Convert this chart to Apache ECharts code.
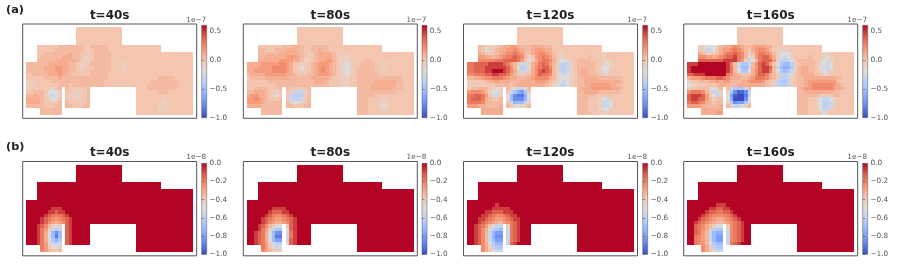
<!DOCTYPE html>
<html><head><meta charset="utf-8">
<style>html,body{margin:0;padding:0;background:#fff}#c{width:897px;height:265px}
canvas[data-zr-dom-id="zr_0"]{filter:blur(0.7px)}</style>
<script src="https://cdn.jsdelivr.net/npm/echarts@6/dist/echarts.min.js"></script>
</head><body><div id="c"></div>
<script>
// Each letter is a level on the colour bar: a = bottom of the bar, u = top, '.' = no cell.
const levels = "abcdefghijklmnopqrstu";
const levelFractions = [0,.05,.1,.15,.2,.25,.3,.35,.4,.44,.5,.58,.625,.655,.69,.73,.77,.81,.86,.92,1];
const titles = ["t=40s","t=80s","t=120s","t=160s"];
const tickA = [-1.0,-0.5,0.0,0.5];
const tickB = [-1.0,-0.8,-0.6,-0.4,-0.2,0.0];
const rangeA = [-1.0,0.6];
const rangeB = [-1.0,0.0];
const top5 = "..... ..... ....m mmmmm mmmmm mm... ..... ..... ..... ..";
const a40 = [top5,top5,top5,top5,top5,
"...mm mmmmn nnnnn nmmnn nnnmm mmmmm mmmmm mmm.. ..... ..",
"...mm mmmnn nnnnn nmmmn nnnmm mmmmm mmmmm mmm.. ..... ..",
"...mm nnnnn nnonn mmlmn nnnnm mmmmm mmmmm mmmmm mmmmm mm",
"...mn nnnnn ooonn mllmn nnnnm mmmmm mmmmm mmmmm mmmmm mm",
"...nn nnnoo oooon mllmn nnnnm mmmmm mmmmm mmmmm mmmmm mm",
"nnnnn noooo oonnm llmnn nnnnm mmllm mmmmm mmmmm mmmmm mm",
"nnnnn ooopp oonnm llmmn nnnnm mllmm mmmmm mmmmm mmmmm mm",
"nnnnn ooopp oonnm lmmnn nnnnm mmlmm mmmmm mmmmm mmmmm mm",
"mmnnn nooop onnmm mmmnn nnnmm mmmmm mmmmm mmmmm mmmmm mm",
"mmmmm nnnno nnnnn nnnnn nnnmm mmmmm mmmmm mmnnn nnmmm mm",
"lmmmm mmnnn nnnnn nnnnn nnmmm mmmmm mmmmm nnnnn nnnmm mm",
"lllmm mmmmn nnmnn nnnnn nnmmm mmmmm mmmmn nnnnn nnnmm mm",
"lmmmm mllmn .nmml mmn.. ..... ..... .mmmn nnnnn nnmmm mm",
"mmnnn mkkkl .mmll lmn.. ..... ..... .mmmm mmnnn mmmmm mm",
"nnonn lkjkl .mlll lmn.. ..... ..... .mmmm mmmmm mmmmm mm",
"oooon mlkkm .mmll lmn.. ..... ..... .mmmm mmmlm mmmmm mm",
"oooon mmlmn .nmmm mmn.. ..... ..... .mmmm mmlll mmmmm mm",
"nnnnn mmmnn .nnmm mnn.. ..... ..... .mmmm mmlll mmmmm mm",
"....n nnnnn ..... ..... ..... ..... .mmmm mmlll mmmmm mm",
"....n nnnnn ..... ..... ..... ..... .mmmm mmmmm mmmmm mm"];
const a80 = [top5,top5,top5,top5,top5,
"...mm mmmmm nnnoo nmmnn nnnmm mmmmm mmmmm mmm.. ..... ..",
"...nn mmmnn nooon nmmnn onnmm mmmmm mmmmm mmm.. ..... ..",
"...nn nnnno ooooo nmlmn oooon mmllm mmmmm mmmmm mmmmm mm",
"...nn ooooo opppo nmlmn oooon mlllm mmmmm mmmmm mmmmm mm",
"...oo oooop pppoo mllmn ooppn mlllm mmmnn mmmmm mmmmm mm",
"oooop ppppq qpomm llmno pppon mllkl mmnnn nmmll mmmmm mm",
"ooopp ppqqq qpoml klmno pqpon mlkkl mmnnn nmllm mmmmm mm",
"ooppp ppqqq qpoml llmno pqpon mlkkl mnnnn nmmlm mmmmm mm",
"noooo ppppp poonm mmnno pppon mllkl mnnnn nnmmm mmmmm mm",
"mnnnn ooooo oonnn nnnoo ooonm mlllm mnnnn nnnnn nnnnm mm",
"mmmmm mnnnn nnnnn nnnno oonmm mlllm mnnnn noooo oonnm mm",
"mmmmm mmmnn nnnnn nnnnn nnnmm mlllm mnnnn ooooo oonnm mm",
"mmnnn nmmmn .nmml lmn.. ..... ..... .nnnn ooooo onnnm mm",
"nnooo nmllm .mljj jlm.. ..... ..... .nnnn nnnnn nnmmm mm",
"oppoo nmlkm .mjii ilm.. ..... ..... .nnnn nmmmm mmmmm mm",
"ppqpo nmmmn .mjii jln.. ..... ..... .nnnm mmmlm mmmmm mm",
"ppppo nnnnn .nlkk lmn.. ..... ..... .nnnm mmlll mmmmm mm",
"oooon nnnnn .nnmm mnn.. ..... ..... .nnnm mmlkl mmmmm mm",
"....n nnnnn ..... ..... ..... ..... .nnnm mmlll mmmmm mm",
"....n nnnnn ..... ..... ..... ..... .nnnm mmmmm mmmmm mm"];
const a120 = [top5,top5,top5,top5,top5,
"...nm lllmn ooppo nnnoo oonnm mmmmm mmmmm mmm.. ..... ..",
"...nm kllno oppqp onnop ppoom mmmmm mmmmm mmm.. ..... ..",
"...on mlmno pqqrq pnmop qqpon mlmmm mmmmm mmmlm mmmmm mm",
"...pp oonop qrrsr qnlmp qrqpn mllmm mmmmn mmmlm mmmmm mm",
"...qq qqqrr ssssr pmklo qrrqo mkklm mnnnn mmmll mmmmm mm",
"rrsss stttt srpnl jjlop rsrpn ljijl mnnnn nmmlk lmmmm mm",
"rrsss ttttt tsqnk iikoq rssqn liijl mnnnn nmlkk lmmmm mm",
"rrsss ttuuu tsqol jjloq stsrn liijl mnoon nmlkk mmmmm mm",
"qqrrr sstts srpnm lmnoq srrqn lkjkl mnoon nnmll mmmmm mm",
"nnoop qqrrr qpoon nnopq qqqon lkkkl mnnoo oonnn nnnnm mm",
"lmmmm noopo oonnn oooop pponm lkjkl mnnoo ooooo ooonm mm",
"lllml mmmnn nnmno ooooo oonml kjjkl mnnoo ppppp oonnm mm",
"mnnno nmlkl .nlkj jkn.. ..... ..... .nooo ppppp poonm mm",
"pqqqp nlkkl .mjhf ehl.. ..... ..... .nnoo oonnn nnnmm mm",
"rrssr pmkjl .kgdc cfk.. ..... ..... .nnnn nmmmm mmmmm mm",
"rsssr onmmn .kgdd dgk.. ..... ..... .nnnm mmlkj lmmmm mm",
"rrrrq onnnn .mjgg gjl.. ..... ..... .nnnm mmljj kmmmm mm",
"pppoo nnnno .nmkk lln.. ..... ..... .nnnm mmljj kmmmm mm",
"....o ooooo ..... ..... ..... ..... .nnnm mmlkk mmmmm mm",
"....o ooooo ..... ..... ..... ..... .nnnn mmmll mmmmm mm"];
const a160 = [top5,top5,top5,top5,top5,
"...ml kkkln oopqp onnop ppoom mmlmm mmmmm mmm.. ..... ..",
"...ml jjkmo ppqrq pnmop qqpnm llllm mmmmm mmm.. ..... ..",
"...on llmno qrrsr qnlnp rrqpn lkkkl mmmmm mmmll mmmmm mm",
"...qq ppopq rsstr qnklp rssqo lkjkl mmmmn mmmlk lmmmm mm",
"...ss sssss ttttr pljkn rsssp ljiik mnnnn nmlkj lmmmm mm",
"tttuu uuuuu utqnj hhjnq stspm khggi lmnnn nmlkj kmmmm mm",
"tuuuu uuuuu utrnj ggjnp sttsn jgffh lnoon nmkjj kmmmm mm",
"tuuuu uuuuu utrnk hhkoq sttrn khghj lnoon nmlkj lmmmm mm",
"ssttt uuuuu urqon mmmoq ssron ljijk mnooo ommll mmmmm mm",
"opppq rrrss rqooo nnopr rrqon liijl mnnoo ooooo oonnm mm",
"lmmnn noopo ppnnn oopqq qpnml ihhjl mnnop ppppp ppnmm mm",
"kllml mmmno onnno ooooo oonml jiijl mnnop qqqqq qponm mm",
"lmmnn nkkln .njhh hjn.. ..... ..... .nopp qqqqq qpoon mm",
"qrrrq nljjl .lhdb bdj.. ..... ..... .nnoo ooooo onnmm mm",
"sttts pmkil .keba acj.. ..... ..... .nnnn nnmll mnnmm mm",
"sttss pnlmn .kfaa adk.. ..... ..... .nnnm mlkji klmmm mm",
"rssrq onmnn .lhde ehl.. ..... ..... .nnnm mlkii jlmmm mm",
"ppppo nnnno .nlij kln.. ..... ..... .nnnm mlkii jlmmm mm",
"....o ooooo ..... ..... ..... ..... .nnnm mmkjj lmmmm mm",
"....o ooopp ..... ..... ..... ..... .nnnm mmmkl mmmmm mm"];
// Panels (b) sit on the same cells; only rows 10-24, columns 2-15 differ from the top level.
const b40 = ["uuuuuuuuuuuuuu","uuuuuuuuuuuuuu","uuuuutttuuuuuu","uuuuttsttuuuuu","uuutsrrrstuuuu","uutsrqpqrstuuu","uutsqpopqstuuu",
"utsqnlklmstuuu","utrpljhjkstuuu","utrokgdgjstuuu","utrokgcgjstuuu","utrokhfhjstuuu","utrpljijkstuuu","uurpmkkluuuuuu","uuqpnmmnuuuuuu"];
const b80 = ["uuuuuuuuuuuuuu","uuuuuuuuuuuuuu","uuuuuttttuuuuu","uuuutsssttuuuu","uuutsrqqrstuuu","uutsrqppqrstuu","uutsqpoopqstuu",
"utsqnlkklmstuu","utrpljhhjkstuu","tsrokgddgjrtuu","tsrokgccgjrtuu","tsrokgeegjstuu","tsrpljiijkstuu","uurpmkjkluuuuu","uuqpnmllmuuuuu"];
const b120 = ["uuuuuuuuuuuuuu","uuuuuutuuuuuuu","uuuuutttttuuuu","uuuttssstttuuu","uuttsrqqrsttuu","uttsrqppqrsttu","utsrqponpqrstu",
"tsrpmkjjklrstu","tsqokihghjrstu","tsqnjgeegjrstu","tsqnjfddfjrstu","tsqnjgeegjrstu","tsqokhgghjstuu","uuqolihhijuuuu","uuqomkjjkluuuu"];
const b160 = ["uuuuuuuuuuuuuu","uuuuuutttuuuuu","uuuuttssttuuuu","uuutssrrsstuuu","uutsrqqqqrstuu","utsrqpoopqrstu","tsrqponnopqrst",
"srqonlkkkmqrst","srqolihhijqrst","srpnjgffgjqrst","rqpnjgeegjqrst","rqpnjgeegjqrst","rqpnkhggijrstu","uuqolihhijuuuu","uuqomkjjklmuuu"];

const coolwarm = ["#3b4cc0","#6485ec","#8db0fe","#b8cef9","#dddcdc","#f4c6b0","#f59473","#dc5d4a","#b40426"];
const clean = r => r.replace(/ /g,"");
const mask = a40.map(clean);
const fracOf = ch => levelFractions[levels.indexOf(ch)];
const toValue = (ch,range) => range[0]+(range[1]-range[0])*fracOf(ch);
function cellsA(rows){const out=[];rows.map(clean).forEach((r,y)=>{[...r].forEach((c,x)=>{if(c!==".")out.push([x+1,y+1,toValue(c,rangeA)]);});});return out;}
function cellsB(rows){const out=[];mask.forEach((r,y)=>{[...r].forEach((c,x)=>{if(c==="."){return;}
  let ch="u";const br=rows[y-10];if(br&&x>=2&&x<16)ch=br[x-2];out.push([x+1,y+1,toValue(ch,rangeB)]);});});return out;}
// One cell: placed by the category axes, snapped to whole pixels so neighbours meet without seams.
function renderCell(params,api){
  const p=api.coord([api.value(0),api.value(1)]),s=api.size([1,1]);
  const x0=Math.round(p[0]-s[0]/2),x1=Math.round(p[0]+s[0]/2),y0=Math.round(p[1]-s[1]/2),y1=Math.round(p[1]+s[1]/2);
  return {type:"rect",shape:{x:x0,y:y0,width:x1-x0,height:y1-y0},style:{fill:api.visual("color")},silent:true};
}

const COLS=49,ROWS=27;
const xCats=Array.from({length:COLS},(_,i)=>i);
const yCats=Array.from({length:ROWS},(_,i)=>i);
const frameX=[22.7,243.3,463.5,683.7], frameW=174;
const barX=[201.7,422,642.7,862.7], barW=5;
const rowsCfg=[
 {top:24,h:94.3,barTop:25.3,barH:92.4,lab:"(a)",labY:4.5,titleY:9.5,expo:"1e\u22127",expoY:17,range:rangeA,ticks:tickA,data:[a40,a80,a120,a160].map(cellsA)},
 {top:161.5,h:94.3,barTop:163.3,barH:91,lab:"(b)",labY:141.5,titleY:146.5,expo:"1e\u22128",expoY:153.5,range:rangeB,ticks:tickB,data:[b40,b80,b120,b160].map(cellsB)}
];
const grid=[],xAxis=[],yAxis=[],series=[],title=[];
const grad=new echarts.graphic.LinearGradient(0,1,0,0,coolwarm.map((c,i)=>({offset:i/(coolwarm.length-1),color:c})));
const fmt=v=>(v<0?"\u2212":"")+Math.abs(v).toFixed(1);
const mapSeries=[[],[]];
rowsCfg.forEach((R,ri)=>{
 title.push({text:R.lab,left:6,top:R.labY,padding:0,zlevel:1,textStyle:{fontFamily:"DejaVu Sans",fontSize:11.3,fontWeight:"bold",color:"#222"}});
 titles.forEach((t,i)=>{
  let gi=grid.length;
  grid.push({left:frameX[i],top:R.top,width:frameW,height:R.h,show:true,zlevel:1,backgroundColor:"transparent",borderColor:"#555",borderWidth:1,containLabel:false});
  xAxis.push({type:"category",gridIndex:gi,data:xCats,show:false,zlevel:1});
  yAxis.push({type:"category",gridIndex:gi,data:yCats,inverse:true,show:false,zlevel:1});
  mapSeries[ri].push(series.length);
  series.push({type:"custom",xAxisIndex:gi,yAxisIndex:gi,data:R.data[i],renderItem:renderCell,encode:{x:0,y:1},zlevel:0,progressive:0,animation:false,silent:true});
  title.push({text:t,left:frameX[i]+frameW/2,top:R.titleY,padding:0,zlevel:1,textAlign:"center",textStyle:{fontFamily:"DejaVu Sans",fontSize:12,fontWeight:"bold",color:"#222"}});
  gi=grid.length;
  grid.push({left:barX[i],top:R.barTop,width:barW,height:R.barH,show:true,zlevel:1,backgroundColor:grad,borderColor:"#555",borderWidth:0.5});
  xAxis.push({type:"value",gridIndex:gi,show:false,min:0,max:1,zlevel:1});
  yAxis.push({type:"value",gridIndex:gi,position:"right",min:R.range[0],max:R.range[1],zlevel:1,splitLine:{show:false},axisLine:{show:false},
    axisTick:{show:true,length:2.5,lineStyle:{color:"#666",width:0.7},customValues:R.ticks},
    axisLabel:{show:true,customValues:R.ticks,formatter:fmt,fontFamily:"DejaVu Sans",fontSize:7.3,color:"#555",margin:2.8}});
  title.push({text:R.expo,left:barX[i]+barW-0.5,top:R.expoY,padding:0,zlevel:1,textAlign:"right",textStyle:{fontFamily:"DejaVu Sans",fontSize:7.3,fontWeight:"normal",color:"#555"}});
 });
});
const chart=echarts.init(document.getElementById("c"),null,{renderer:"canvas"});
chart.setOption({animation:false,backgroundColor:"#fff",title,grid,xAxis,yAxis,series,
 visualMap:[
  {show:false,type:"continuous",dimension:2,seriesIndex:mapSeries[0],min:rangeA[0],max:rangeA[1],inRange:{color:coolwarm}},
  {show:false,type:"continuous",dimension:2,seriesIndex:mapSeries[1],min:rangeB[0],max:rangeB[1],inRange:{color:coolwarm}}
 ]});
</script></body></html>
